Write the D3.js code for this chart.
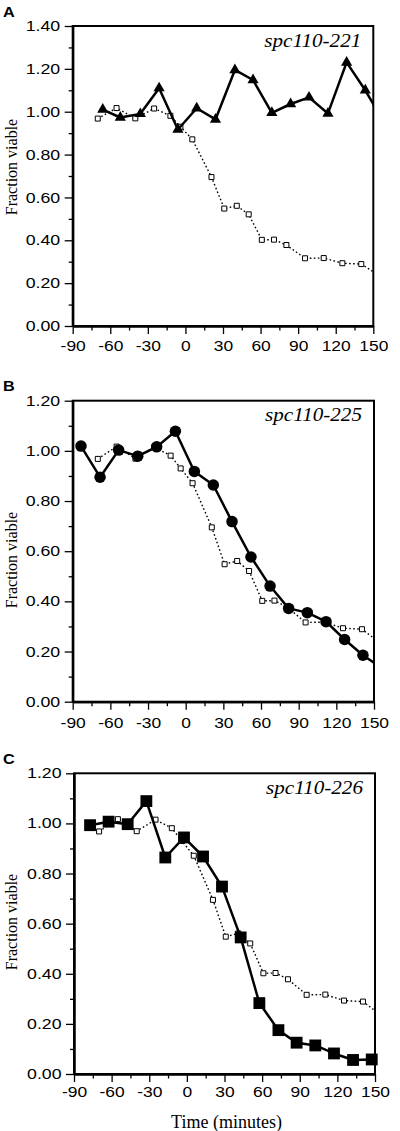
<!DOCTYPE html>
<html><head><meta charset="utf-8">
<script src="https://cdn.jsdelivr.net/npm/d3@7"></script>
<style>
body{margin:0;background:#fff;}
svg{display:block;}
</style></head>
<body>
<svg id="chart" width="400" height="1131"></svg>
<script>
// ---- data ----
const xTicks = [-90, -60, -30, 0, 30, 60, 90, 120, 150];
const xMinorTicks = [-75, -45, -15, 15, 45, 75, 105, 135];
const yTicksA = [0, 0.2, 0.4, 0.6, 0.8, 1.0, 1.2, 1.4];
const yTicksBC = [0, 0.2, 0.4, 0.6, 0.8, 1.0, 1.2];
const yMinorA = [0.1, 0.3, 0.5, 0.7, 0.9, 1.1, 1.3];
const yMinorBC = [0.1, 0.3, 0.5, 0.7, 0.9, 1.1];

// wild-type control (open squares, dotted), same in all panels
const controlTime = [-70, -55, -40, -25, -12, -4, 5.5, 20.8, 31, 41, 50.5, 61, 70.7, 80.6, 95.5, 110.4, 125.3, 140.4, 156];
const controlViable = [0.968, 1.017, 0.969, 1.015, 0.981, 0.93, 0.871, 0.695, 0.548, 0.561, 0.521, 0.402, 0.403, 0.378, 0.316, 0.317, 0.293, 0.289, 0.23];

// spc110-221 (triangles)
const timeA = [-66, -52, -36, -21, -6, 9, 24, 39.5, 54, 69, 84, 98.7, 113.8, 128.7, 143.6, 158];
const viableA = [1.01, 0.973, 0.99, 1.11, 0.917, 1.016, 0.964, 1.195, 1.148, 0.995, 1.036, 1.067, 0.992, 1.23, 1.10, 0.955];

// spc110-225 (circles)
const timeB = [-83.4, -68.2, -53.4, -38.2, -23.1, -8.2, 6.9, 22, 36.9, 52, 67.2, 82, 96.9, 111.8, 126.6, 141.2, 156];
const viableB = [1.019, 0.895, 1.003, 0.979, 1.016, 1.078, 0.918, 0.864, 0.718, 0.577, 0.461, 0.372, 0.355, 0.319, 0.248, 0.185, 0.135];

// spc110-226 (squares)
const timeC = [-77.2, -62.4, -47.2, -32.3, -17.2, -2.3, 12.9, 28, 42.9, 57.8, 73, 87.5, 102.4, 117.3, 132.5, 147.4];
const viableC = [0.993, 1.007, 0.997, 1.089, 0.864, 0.944, 0.868, 0.748, 0.545, 0.283, 0.175, 0.125, 0.114, 0.082, 0.056, 0.058];

const panelLetters = ["A", "B", "C"];
const panelTitles = ["spc110-221", "spc110-225", "spc110-226"];
const yLabel = "Fraction viable";
const xLabel = "Time (minutes)";

// ---- layout ----
const panels = [
  {letter: panelLetters[0], title: panelTitles[0], xr: [72.7, 373.3], yr: [326, 26], ymax: 1.4, yt: yTicksA, ym: yMinorA,
   t: timeA, v: viableA, sym: d3.symbolTriangle, size: 54, letterY: 17.5, ylabY: 167, xlabBase: 25.5},
  {letter: panelLetters[1], title: panelTitles[1], xr: [72.7, 374], yr: [701.7, 400.7], ymax: 1.2, yt: yTicksBC, ym: yMinorBC,
   t: timeB, v: viableB, sym: d3.symbolCircle, size: 104, letterY: 391, ylabY: 560, xlabBase: 26},
  {letter: panelLetters[2], title: panelTitles[2], xr: [74, 375], yr: [1074, 773.3], ymax: 1.2, yt: yTicksBC, ym: yMinorBC,
   t: timeC, v: viableC, sym: d3.symbolSquare, size: 140, letterY: 764.5, ylabY: 922, xlabBase: 23}
];

const svg = d3.select("#chart");
const SX = 1.24; // horizontal stretch of sans labels

panels.forEach((p, i) => {
  const x = d3.scaleLinear().domain([-90, 150]).range(p.xr);
  const y = d3.scaleLinear().domain([0, p.ymax]).range(p.yr);
  const g = svg.append("g");

  const clipId = "clip" + i;
  svg.append("clipPath").attr("id", clipId).append("rect")
    .attr("x", p.xr[0]).attr("y", p.yr[1]).attr("width", p.xr[1] - p.xr[0]).attr("height", p.yr[0] - p.yr[1]);

  // frame
  g.append("rect").attr("x", p.xr[0]).attr("y", p.yr[1])
    .attr("width", p.xr[1] - p.xr[0]).attr("height", p.yr[0] - p.yr[1])
    .attr("fill", "none").attr("stroke", "#000").attr("stroke-width", 2);

  // y axis
  const ya = g.append("g").attr("transform", `translate(${p.xr[0]},0)`)
    .call(d3.axisLeft(y).tickValues(p.yt).tickSize(8).tickSizeOuter(0).tickPadding(4).tickFormat(d => d.toFixed(2)));
  g.append("g").attr("transform", `translate(${p.xr[0]},0)`)
    .call(d3.axisLeft(y).tickValues(p.ym).tickSize(4).tickSizeOuter(0).tickFormat(""));
  // x axis
  const xa = g.append("g").attr("transform", `translate(0,${p.yr[0]})`)
    .call(d3.axisBottom(x).tickValues(xTicks).tickSize(8).tickSizeOuter(0).tickFormat(d => String(d)));
  g.append("g").attr("transform", `translate(0,${p.yr[0]})`)
    .call(d3.axisBottom(x).tickValues(xMinorTicks).tickSize(4.5).tickSizeOuter(0).tickFormat(""));

  g.selectAll(".domain").attr("stroke-width", 2).attr("stroke", "#000");
  g.selectAll(".tick line").attr("stroke-width", 1.3).attr("stroke", "#000");
  ya.selectAll(".tick text")
    .attr("font-family", "'Liberation Sans', Arial, sans-serif").attr("font-size", 14.3).attr("fill", "#000")
    .attr("x", -12.5 / SX).attr("transform", `scale(${SX},1)`);
  xa.selectAll(".tick text")
    .attr("font-family", "'Liberation Sans', Arial, sans-serif").attr("font-size", 14.8).attr("fill", "#000")
    .attr("dy", 0).attr("y", p.xlabBase).attr("transform", `scale(${SX * 0.95},1)`);

  // control series
  const cpts = controlTime.map((t, k) => [t, controlViable[k]]);
  const line = d3.line().x(d => x(d[0])).y(d => y(d[1]));
  g.append("path").datum(cpts).attr("d", line).attr("clip-path", `url(#${clipId})`)
    .attr("fill", "none").attr("stroke", "#000").attr("stroke-width", 1.4).attr("stroke-dasharray", "1.6,2.4");
  g.append("g").selectAll("path").data(cpts.filter(d => d[0] <= 150)).join("path")
    .attr("d", d3.symbol(d3.symbolSquare, 25)())
    .attr("transform", d => `translate(${x(d[0])},${y(d[1])})`)
    .attr("fill", "#fff").attr("stroke", "#000").attr("stroke-width", 1);

  // mutant series
  const pts = p.t.map((t, k) => [t, p.v[k]]);
  g.append("path").datum(pts).attr("d", line).attr("clip-path", `url(#${clipId})`)
    .attr("fill", "none").attr("stroke", "#000").attr("stroke-width", 2.5).attr("stroke-linejoin", "round");
  g.append("g").selectAll("path").data(pts.filter(d => d[0] <= 150)).join("path")
    .attr("d", d3.symbol(p.sym, p.size)())
    .attr("transform", d => `translate(${x(d[0])},${y(d[1])})`)
    .attr("fill", "#000");

  // title
  g.append("text").attr("x", p.xr[1] - 12).attr("y", p.yr[1] + 20.5)
    .attr("text-anchor", "end")
    .attr("font-family", "'Liberation Serif', 'Times New Roman', serif").attr("font-style", "italic")
    .attr("font-size", 18).attr("textLength", 97).attr("lengthAdjust", "spacingAndGlyphs")
    .text(p.title);

  // panel letter
  g.append("text").attr("x", 3).attr("y", p.letterY)
    .attr("font-family", "'Liberation Sans', Arial, sans-serif").attr("font-weight", "bold")
    .attr("font-size", 14.5).attr("transform-origin", `3 ${p.letterY}`).attr("transform", `scale(1.12,1)`)
    .text(p.letter);

  // y label
  g.append("text").attr("transform", `translate(17,${p.ylabY}) rotate(-90)`)
    .attr("text-anchor", "middle")
    .attr("font-family", "'Liberation Serif', 'Times New Roman', serif").attr("font-size", 16)
    .text(yLabel);

  if (i === 2) {
    g.append("text").attr("x", (p.xr[0] + p.xr[1]) / 2 + 2).attr("y", 1127.5)
      .attr("text-anchor", "middle")
      .attr("font-family", "'Liberation Serif', 'Times New Roman', serif").attr("font-size", 18)
      .text(xLabel);
  }
});
</script>
</body></html>
